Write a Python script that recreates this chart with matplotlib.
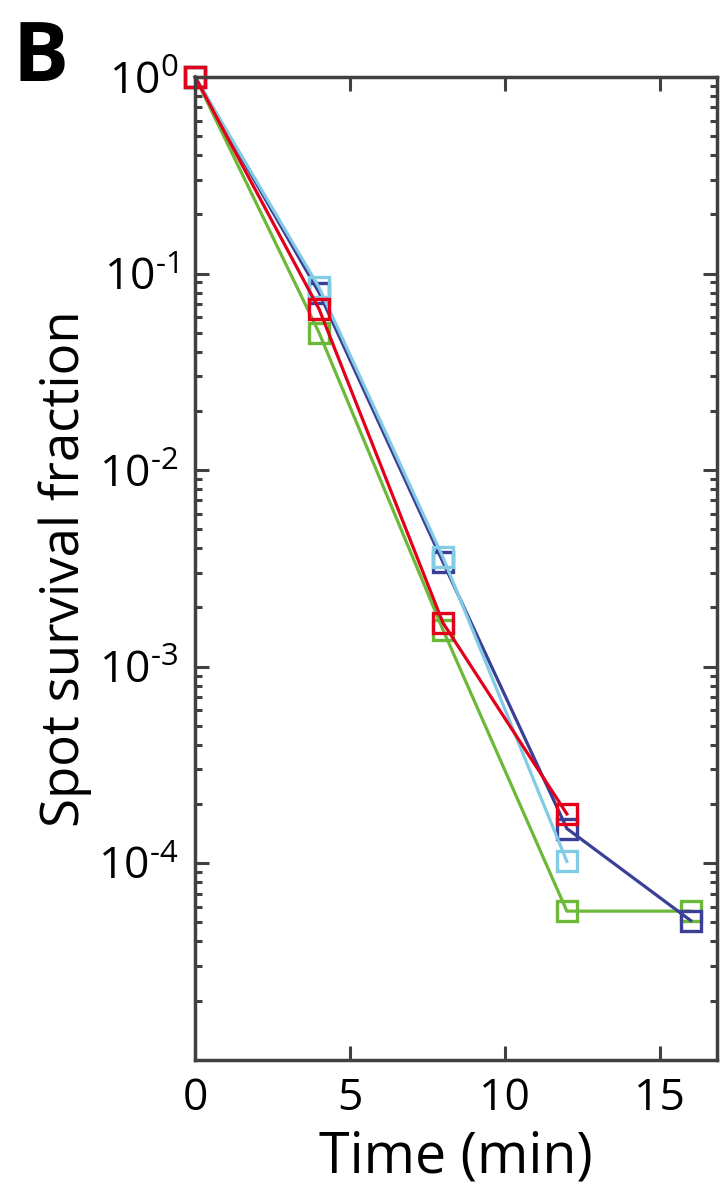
import numpy as np
import matplotlib
matplotlib.use('Agg')
import matplotlib.pyplot as plt
import matplotlib.ticker as ticker

plt.rcParams['font.family'] = ['Open Sans', 'DejaVu Sans']
plt.rcParams['mathtext.fontset'] = 'custom'
plt.rcParams['mathtext.rm'] = 'Open Sans'
plt.rcParams['axes.unicode_minus'] = False

# time points (min)
t_long = [0, 4, 8, 12, 16]
t_short = [0, 4, 8, 12]

# spot survival fraction per condition
green = [1.0, 0.050, 0.00154, 5.7e-5, 5.7e-5]
navy = [1.0, 0.080, 0.0034, 1.5e-4, 5.1e-5]
light_blue = [1.0, 0.085, 0.0036, 1.02e-4]
red = [1.0, 0.066, 0.00167, 1.78e-4]

decades = [0, -1, -2, -3, -4]

series = [
    (t_long, green, '#6cb93a'),
    (t_long, navy, '#3b3f96'),
    (t_short, light_blue, '#82cbe5'),
    (t_short, red, '#e2001a'),
]

fig = plt.figure(figsize=(7.2, 11.84), dpi=100)
ax = fig.add_axes([0.271, 0.105, 0.725, 0.830])

for t, y, c in series:
    ax.plot(t, y, '-s', color=c, lw=2.3, ms=14, mfc='none', mec=c, mew=2.4,
            clip_on=False)

ax.set_yscale('log')
ax.set_ylim(1e-5, 1)
ax.set_xlim(0, 16.85)
ax.set_xticks([0, 5, 10, 15])
ax.set_yticks([10.0 ** d for d in decades])
ax.set_yticklabels([r'$\mathdefault{10^{\text{%s}}}$' % ('-%d' % -d if d else '0')
                    for d in decades])
ax.yaxis.set_minor_locator(ticker.LogLocator(base=10, subs=np.arange(2, 10)))
ax.yaxis.set_minor_formatter(ticker.NullFormatter())

for s in ax.spines.values():
    s.set_linewidth(2.5)
    s.set_color('#404040')

ax.tick_params(which='both', direction='in', top=True, right=True,
               color='#404040', width=2.2)
ax.tick_params(which='major', length=10, labelsize=32, pad=12)
ax.tick_params(which='minor', length=5)

ax.set_xlabel('Time (min)', fontsize=40, labelpad=6)
ax.set_ylabel('Spot survival fraction', fontsize=38, labelpad=4)

fig.text(0.018, 0.985, 'B', fontsize=60, fontweight='bold', va='top', ha='left')

fig.savefig('out.png', dpi=100)
